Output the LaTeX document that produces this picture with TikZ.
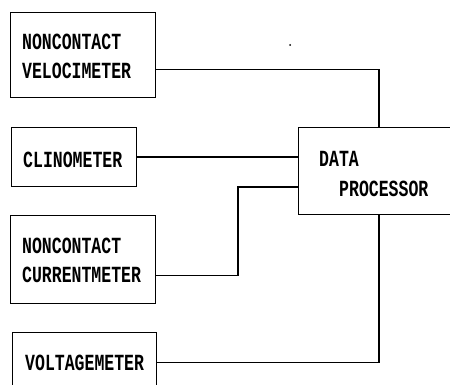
\documentclass[tikz,border=0pt]{standalone}
\usepackage{fontspec}
\setmonofont{Liberation Mono}
\usetikzlibrary{calc}
\newcommand{\plbl}[1]{\scalebox{1}[1.4]{\fontsize{16.5}{16.5}\selectfont\ttfamily\bfseries #1}}
\tikzset{
  unit/.style={draw, line width=1.3pt, rectangle, inner sep=0pt, anchor=north west},
  lbl/.style={anchor=west, inner sep=0pt},
  wire/.style={line width=1.3pt},
}
\begin{document}
\begin{tikzpicture}[x=1pt, y=-1pt]
\useasboundingbox (0,0) rectangle (450,385);
\clip (0,0) rectangle (450,385);

% instrument boxes
\node[unit, minimum width=145pt, minimum height=85pt] (v) at (10,12) {};
\node[unit, minimum width=125pt, minimum height=59pt] (c) at (11,127) {};
\node[unit, minimum width=145pt, minimum height=88pt] (cm) at (10,215) {};
\node[unit, minimum width=144pt, minimum height=60pt] (vm) at (12,332) {};
% processor box (runs past the right edge)
\node[unit, minimum width=180pt, minimum height=87pt] (dp) at (298,127) {};

% labels
\node[lbl] (t1) at (22,42) {\plbl{NONCONTACT}};
\node[lbl] (t2) at (22,71) {\plbl{VELOCIMETER}};
\node[lbl] (t3) at (23,160) {\plbl{CLINOMETER}};
\node[lbl] (t4) at (22,246) {\plbl{NONCONTACT}};
\node[lbl] (t5) at (22,274.5) {\plbl{CURRENTMETER}};
\node[lbl] (t6) at (25,363) {\plbl{VOLTAGEMETER}};
\node[lbl] (t7) at (319,159) {\plbl{DATA}};
\node[lbl] (t8) at (339,189) {\plbl{PROCESSOR}};

% connections
\coordinate (k) at (238,187);
\draw[wire] ([yshift=-14.5pt]v.east) -| ([xshift=81pt]dp.north west);
\draw[wire] (c.east) -- (c.east -| dp.west);
\draw[wire] ([yshift=-16pt]cm.east) -| (k) -- (k -| dp.west);
\draw[wire] (vm.east) -| ([xshift=81pt]dp.south west);

% stray mark
\fill (290,45) circle (1pt);
\end{tikzpicture}
\end{document}
